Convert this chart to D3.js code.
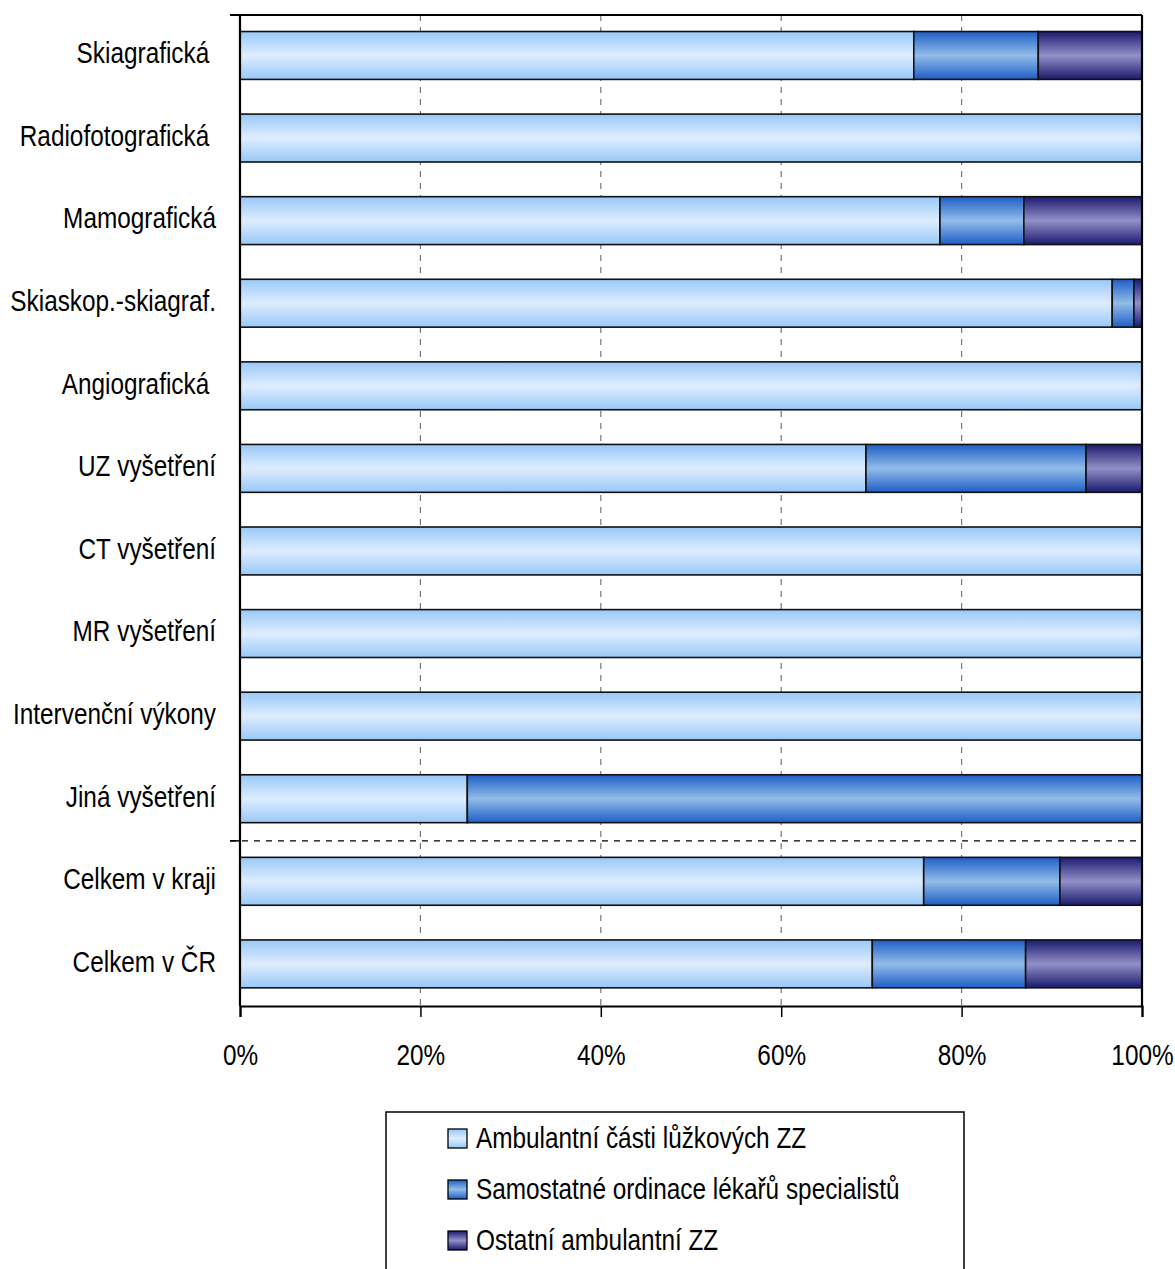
<!DOCTYPE html>
<html><head><meta charset="utf-8">
<script src="https://cdn.jsdelivr.net/npm/d3@7"></script>
<style>
body{margin:0;background:#fff;}
text{font-family:"Liberation Sans",Arial,sans-serif;fill:#000;}
</style></head>
<body>
<svg id="chart" width="1175" height="1269"></svg>
<script>
const categories = ["Skiagrafická ","Radiofotografická ","Mamografická","Skiaskop.-skiagraf.","Angiografická ","UZ vyšetření","CT vyšetření","MR vyšetření","Intervenční výkony","Jiná vyšetření","Celkem v kraji","Celkem v ČR"];
const seriesNames = ["Ambulantní části lůžkových ZZ","Samostatné ordinace lékařů specialistů","Ostatní ambulantní ZZ"];
const ambulantni = [74.7,100,77.6,96.7,100,69.4,100,100,100,25.2,75.8,70.1];
const samostatne = [13.8,0,9.3,2.4,0,24.4,0,0,0,74.8,15.1,17.0];
const ostatni    = [11.5,0,13.1,0.9,0,6.2,0,0,0,0,9.1,12.9];
const xTicks = [0,20,40,60,80,100];
const splitAfter = 9; // separator after "Jiná vyšetření"

const FS = 29, SX = 0.84;
const svg = d3.select("#chart");
const L=240, R=1142, T=15, B=1006;
const x = d3.scaleLinear().domain([0,100]).range([L,R]);
const y = d3.scaleBand().domain(categories).range([T,B]).padding(0);
const step = y.step();

const defs = svg.append("defs");
const grads = [
  {id:"g0", edge:"#98c8f8", mid:"#deedfe"},
  {id:"g1", edge:"#1e5ec6", mid:"#92bce8"},
  {id:"g2", edge:"#1b1a6e", mid:"#9290c8"}
];
grads.forEach(g=>{
  const lg = defs.append("linearGradient").attr("id",g.id).attr("x1",0).attr("y1",0).attr("x2",0).attr("y2",1);
  lg.append("stop").attr("offset","0%").attr("stop-color",g.edge);
  lg.append("stop").attr("offset","50%").attr("stop-color",g.mid);
  lg.append("stop").attr("offset","100%").attr("stop-color",g.edge);
});

// gridlines
svg.append("g").selectAll("line").data(xTicks.filter(t=>t>0&&t<100)).join("line")
  .attr("x1",d=>x(d)).attr("x2",d=>x(d)).attr("y1",T).attr("y2",B)
  .attr("stroke","#777").attr("stroke-width",1.2).attr("stroke-dasharray","6,6");

// stacked data
const stackData = categories.map((c,i)=>({cat:c, s0:ambulantni[i], s1:samostatne[i], s2:ostatni[i]}));
const stack = d3.stack().keys(["s0","s1","s2"])(stackData);

const bh = step*0.58, boff = step*0.2;
svg.append("g").selectAll("g").data(stack).join("g")
  .attr("fill",(d,i)=>`url(#g${i})`)
  .selectAll("rect").data(d=>d.filter(p=>p[1]-p[0]>0)).join("rect")
  .attr("x",d=>x(d[0])).attr("width",d=>x(d[1])-x(d[0]))
  .attr("y",d=>y(d.data.cat)+boff).attr("height",bh)
  .attr("stroke","#111").attr("stroke-width",1.6);

// separator
const sepY = y(categories[splitAfter])+step;
svg.append("line").attr("x1",L-10).attr("x2",R).attr("y1",sepY).attr("y2",sepY)
  .attr("stroke","#000").attr("stroke-width",1.2).attr("stroke-dasharray","6,6");
svg.append("line").attr("x1",L-10).attr("x2",L).attr("y1",sepY).attr("y2",sepY)
  .attr("stroke","#000").attr("stroke-width",1.5);

// frame lines
svg.append("line").attr("x1",L-10).attr("x2",R).attr("y1",T).attr("y2",T).attr("stroke","#000").attr("stroke-width",1.8);
svg.append("line").attr("x1",L).attr("x2",L).attr("y1",T).attr("y2",B).attr("stroke","#000").attr("stroke-width",2.2);
svg.append("line").attr("x1",R).attr("x2",R).attr("y1",T).attr("y2",B).attr("stroke","#000").attr("stroke-width",2.2);

// bottom axis
const xAxis = d3.axisBottom(x).tickValues(xTicks).tickFormat(d=>d+"%").tickSize(11).tickPadding(0);
const ax = svg.append("g").attr("transform",`translate(0,${B})`).call(xAxis);
ax.select(".domain").attr("stroke","#000").attr("stroke-width",2.2);
ax.selectAll(".tick line").attr("stroke","#000").attr("stroke-width",1.5);
ax.selectAll(".tick text").attr("font-size",FS).attr("font-family",null).style("fill","#000")
  .attr("y",59).attr("dy",null).attr("transform",`scale(${SX},1)`);

// category labels
svg.append("g").selectAll("text").data(categories).join("text")
  .attr("transform",d=>`translate(216,${y(d)+step/2+7}) scale(${SX},1)`)
  .attr("text-anchor","end")
  .attr("font-size",FS).style("white-space","pre")
  .text(d=>d);

// legend
const lg = svg.append("g");
lg.append("rect").attr("x",386).attr("y",1112).attr("width",578).attr("height",170)
  .attr("fill","#fff").attr("stroke","#000").attr("stroke-width",1.5);
const ly = d3.scalePoint().domain(seriesNames).range([1138,1240]);
const items = lg.selectAll("g").data(seriesNames).join("g")
  .attr("transform",d=>`translate(448,${ly(d)})`);
items.append("rect").attr("x",0).attr("y",-9).attr("width",19).attr("height",19)
  .attr("fill",(d,i)=>`url(#g${i})`).attr("stroke","#000").attr("stroke-width",1.3);
items.append("text").attr("transform",`translate(28,10) scale(${SX},1)`)
  .attr("font-size",FS).text(d=>d);
</script>
</body></html>
